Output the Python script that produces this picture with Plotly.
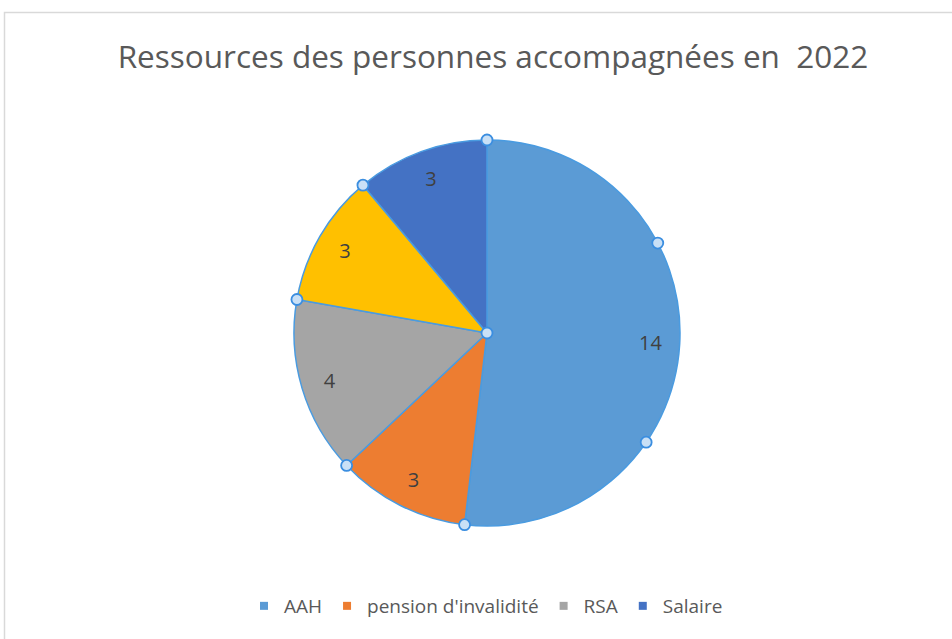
import numpy as np
import plotly.graph_objects as go

# slices in drawing order, clockwise from 12 o'clock
labels = ["AAH", "pension d'invalidité", "RSA", "(vide)", "Salaire"]
values = [14, 3, 4, 3, 3]
colors = ["#5B9BD5", "#ED7D31", "#A5A5A5", "#FFC000", "#4472C4"]

# the legend only lists four of them
legend_labels = ["AAH", "pension d'invalidité", "RSA", "Salaire"]
legend_colors = ["#5B9BD5", "#ED7D31", "#A5A5A5", "#4472C4"]

title = "Ressources des personnes accompagnées en  2022"

W, H = 952, 639
cx, cy, r = 487, 333, 193
dom_x = [(cx - r) / W, (cx + r) / W]
dom_y = [(H - cy - r) / H, (H - cy + r) / H]
pad = 1.1  # axes a little wider than the pie so the handles are not clipped

fig = go.Figure()

fig.add_trace(go.Pie(
    labels=labels, values=values, sort=False, direction="clockwise", rotation=0,
    marker=dict(colors=colors, line=dict(color="#4a9be0", width=1.5)),
    textinfo="none", showlegend=False, hoverinfo="label+value",
    domain=dict(x=dom_x, y=dom_y),
))

# transparent donut on top, only so the value labels sit near the rim like Excel
fig.add_trace(go.Pie(
    labels=labels, values=values, sort=False, direction="clockwise", rotation=0, hole=0.7,
    marker=dict(colors=["rgba(0,0,0,0)"] * len(values), line=dict(width=0)),
    textinfo="value", textposition="inside", insidetextorientation="horizontal",
    textfont=dict(family="Open Sans", size=20, color="#404040"),
    showlegend=False, hoverinfo="skip",
    domain=dict(x=dom_x, y=dom_y),
))

# selection handles (slice edges, thirds of the selected AAH arc, centre)
cum = np.cumsum([0] + values) / sum(values) * 360
ang = list(cum[:-1]) + [cum[1] / 3, cum[1] * 2 / 3]
hx = [np.sin(np.radians(a)) for a in ang] + [0]
hy = [np.cos(np.radians(a)) for a in ang] + [0]
handles = [dict(type="circle", xref="x", yref="y", xsizemode="pixel", ysizemode="pixel",
                xanchor=x, yanchor=y, x0=-5.5, x1=5.5, y0=-5.5, y1=5.5, layer="above",
                fillcolor="#c9e0f6", line=dict(color="#3b8ee0", width=1.8))
           for x, y in zip(hx, hy)]

# dummy traces for the legend
for name, col in zip(legend_labels, legend_colors):
    fig.add_trace(go.Scatter(x=[None], y=[None], mode="markers", name=name,
                             marker=dict(symbol="square", size=8, color=col)))

frame = dict(type="rect", xref="paper", yref="paper", x0=4.5 / W, x1=1.05,
             y0=-0.05, y1=1 - 12.5 / H, line=dict(color="#d9d9d9", width=1.5))

fig.update_layout(
    width=W, height=H,
    margin=dict(l=0, r=0, t=0, b=0),
    paper_bgcolor="white", plot_bgcolor="rgba(0,0,0,0)",
    title=dict(text=title, x=493 / W, xanchor="center", y=1 - 57 / H, yanchor="middle",
               font=dict(family="Open Sans", size=31.5, color="#595959")),
    xaxis=dict(visible=False, domain=[(cx - pad * r) / W, (cx + pad * r) / W],
               range=[-pad, pad], fixedrange=True),
    yaxis=dict(visible=False, domain=[(H - cy - pad * r) / H, (H - cy + pad * r) / H],
               range=[-pad, pad], fixedrange=True),
    legend=dict(orientation="h", x=486 / W, xanchor="center", y=1 - 606 / H, yanchor="middle",
                font=dict(family="Open Sans", size=19, color="#595959"),
                itemwidth=30, bgcolor="rgba(0,0,0,0)"),
    shapes=[frame] + handles,
)

fig.write_html("out.html", config={"displayModeBar": False},
               post_script="document.body.style.margin='0';")
